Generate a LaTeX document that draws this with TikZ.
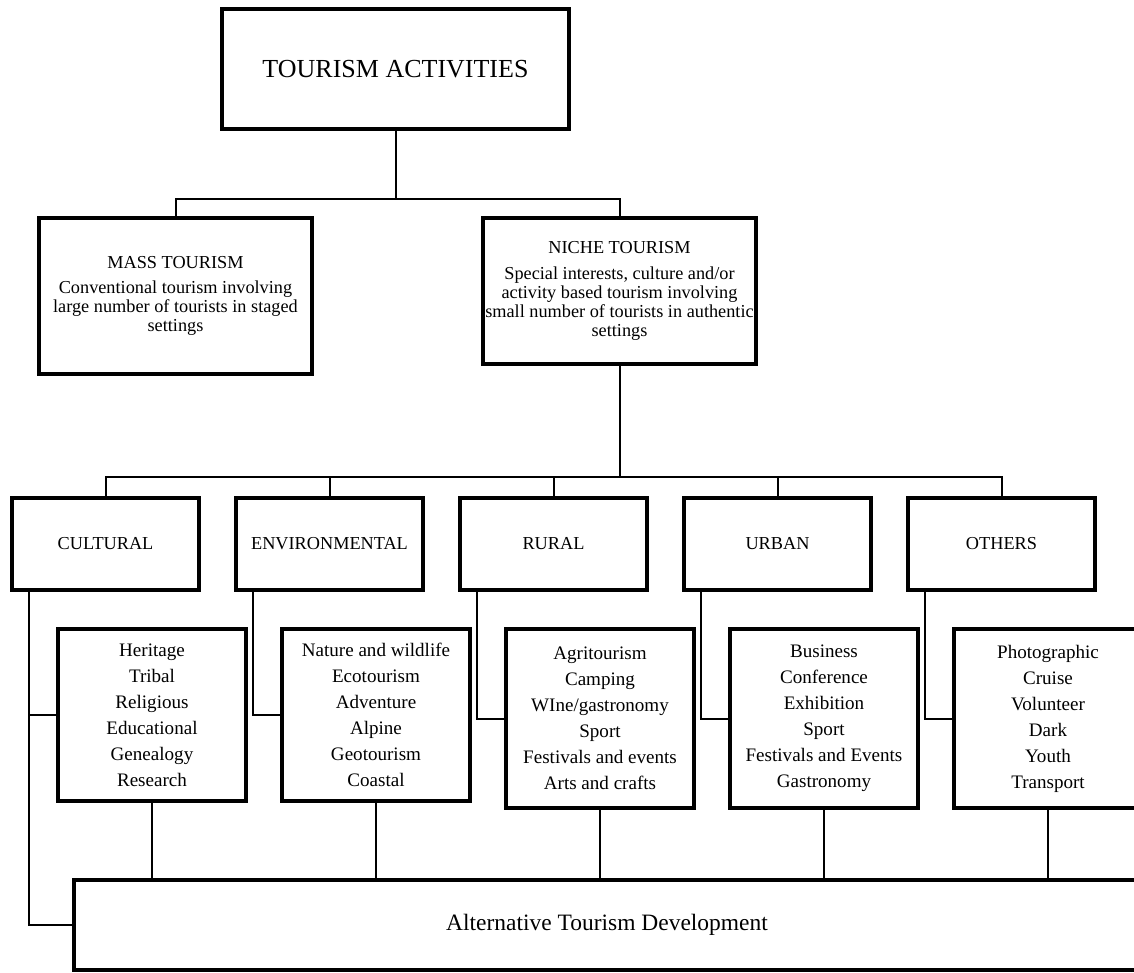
\documentclass[tikz,border=0pt]{standalone}
\usepackage{fontspec}
\setmainfont{Liberation Serif}

\tikzset{
	box/.style={draw, line width=3pt, inner sep=0pt, align=center, fill=white},
	catbox/.style={box, minimum width=140pt, minimum height=69pt, font=\fontsize{13.7}{13.9}\selectfont},
	listbox/.style={box, minimum width=141pt, font=\fontsize{14.3}{19.5}\selectfont},
	link/.style={line width=1.5pt},
	droplink/.style={line width=1.1pt}
}

\begin{document}
\begin{tikzpicture}[x=0.75pt, y=-0.75pt]
	\useasboundingbox (0,0) rectangle (1134,972);
	\clip (0,0) rectangle (1134,972);

	% top
	\node[box, minimum width=260pt, minimum height=90pt, font=\fontsize{19.5}{21}\selectfont] (act) at (395.5,69) {TOURISM ACTIVITIES};
	\node[box, minimum width=205pt, minimum height=117pt, font=\fontsize{13.7}{14.2}\selectfont] (mass) at (175.5,296)
		{MASS TOURISM\\[5pt] Conventional tourism involving\\ large number of tourists in staged\\ settings};
	\node[box, minimum width=205pt, minimum height=109pt, font=\fontsize{13.7}{14.2}\selectfont] (niche) at (619.5,291)
		{NICHE TOURISM\\[5pt] Special interests, culture and/or\\ activity based tourism involving\\ small number of tourists in authentic\\ settings};
	\coordinate (split1) at (395.5,199);
	\draw[link] (act) -- (split1);
	\draw[link] (mass.north) |- (split1) -| (niche.north);

	% categories
	\node[catbox] (cultural) at (105.5,544) {CULTURAL};
	\node[catbox] (environ) at (329.5,544) {ENVIRONMENTAL};
	\node[catbox] (rural) at (553.5,544) {RURAL};
	\node[catbox] (urban) at (777.5,544) {URBAN};
	\node[catbox] (others) at (1001.5,544) {OTHERS};
	\coordinate (split2) at (619.5,477);
	\draw[link] (niche) -- (split2);
	\draw[link] (cultural.north) |- (split2) -| (others.north);
	\draw[link] (environ.north) -- (environ.north |- split2);
	\draw[link] (rural.north) -- (rural.north |- split2);
	\draw[link] (urban.north) -- (urban.north |- split2);

	% lists
	\node[listbox, minimum height=129pt] (culturallist) at (152,715)
		{Heritage\\ Tribal\\ Religious\\ Educational\\ Genealogy\\ Research};
	\node[listbox, minimum height=129pt] (environlist) at (376,715)
		{Nature and wildlife\\ Ecotourism\\ Adventure\\ Alpine\\ Geotourism\\ Coastal};
	\node[listbox, minimum height=134pt] (rurallist) at (600,718.5)
		{Agritourism\\ Camping\\ WIne/gastronomy\\ Sport\\ Festivals and events\\ Arts and crafts};
	\node[listbox, minimum height=134pt] (urbanlist) at (824,718.5)
		{Business\\ Conference\\ Exhibition\\ Sport\\ Festivals and Events\\ Gastronomy};
	\node[listbox, minimum height=134pt] (otherslist) at (1048,718.5)
		{Photographic\\ Cruise\\ Volunteer\\ Dark\\ Youth\\ Transport};
	\draw[link] ([xshift=14pt]environ.south west) |- (environlist.west);
	\draw[link] ([xshift=14pt]rural.south west) |- (rurallist.west);
	\draw[link] ([xshift=14pt]urban.south west) |- (urbanlist.west);
	\draw[link] ([xshift=14pt]others.south west) |- (otherslist.west);

	% bottom
	\node[box, minimum width=800pt, minimum height=67pt, font=\fontsize{17.6}{19}\selectfont] (alt) at (607,925) {Alternative Tourism Development};
	\draw[link] ([xshift=14pt]cultural.south west) |- (alt.west);
	\draw[link] ([xshift=14pt]cultural.south west |- culturallist.west) -- (culturallist.west);
	\draw[droplink] (culturallist) -- (culturallist |- alt.north);
	\draw[droplink] (environlist) -- (environlist |- alt.north);
	\draw[droplink] (rurallist) -- (rurallist |- alt.north);
	\draw[droplink] (urbanlist) -- (urbanlist |- alt.north);
	\draw[droplink] (otherslist) -- (otherslist |- alt.north);
\end{tikzpicture}
\end{document}
